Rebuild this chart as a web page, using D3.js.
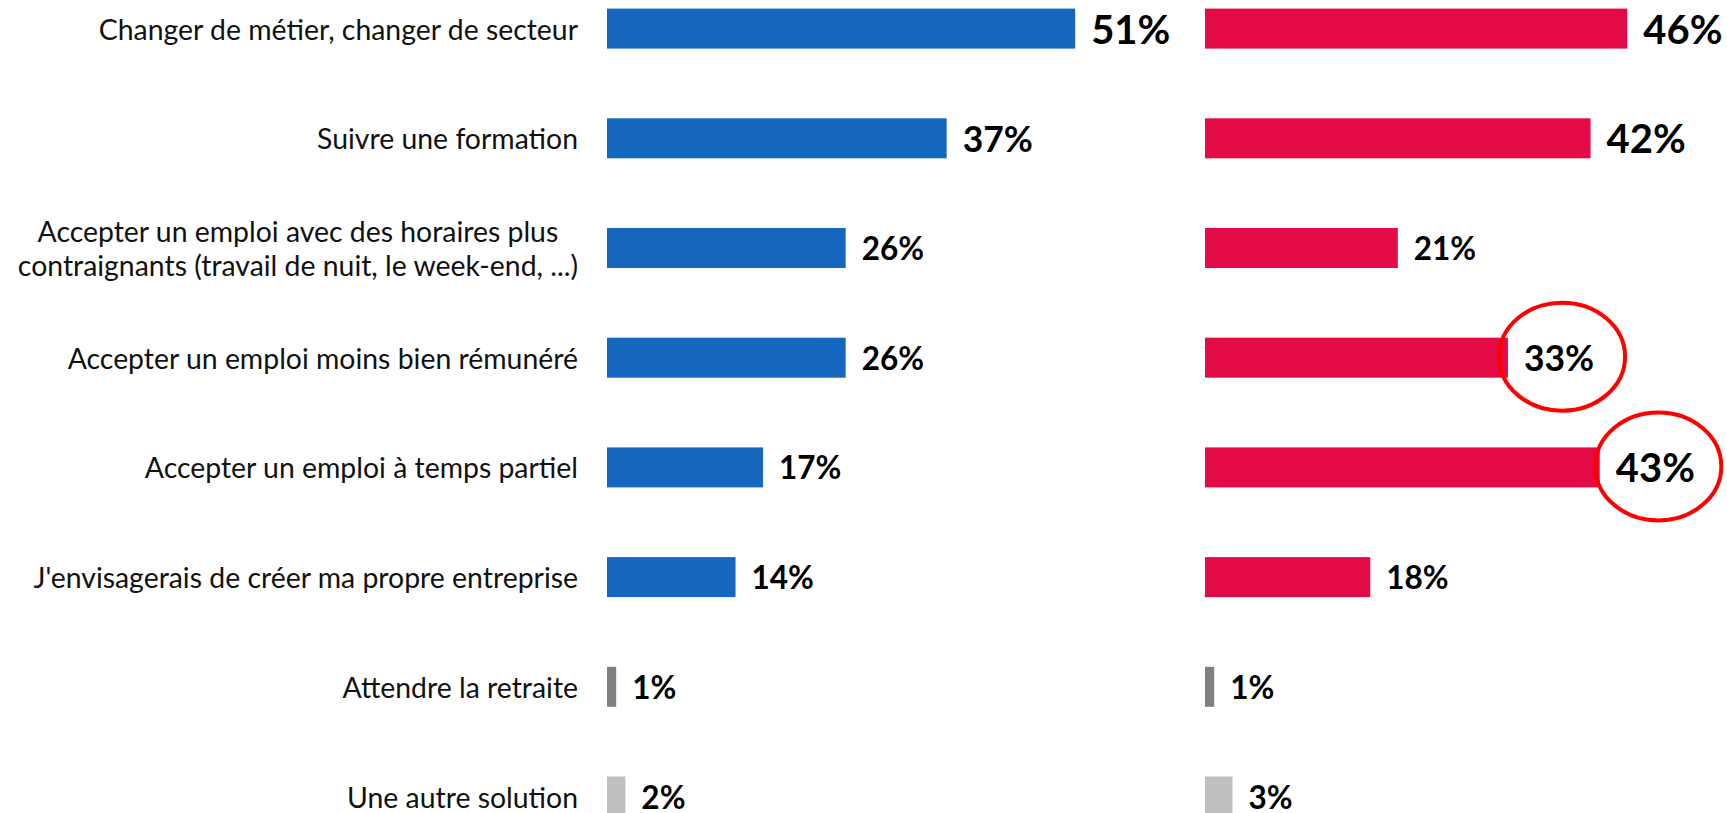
<!DOCTYPE html>
<html><head><meta charset="utf-8">
<script src="https://cdn.jsdelivr.net/npm/d3@7"></script>
<style>html,body{margin:0;padding:0;background:#fff;overflow:hidden}</style>
</head><body>
<svg id="c" width="1727" height="813"></svg>
<script>
// ---- data ----
const categories = [
  "Changer de métier, changer de secteur",
  "Suivre une formation",
  "Accepter un emploi avec des horaires plus\ncontraignants (travail de nuit, le week-end, ...)",
  "Accepter un emploi moins bien rémunéré",
  "Accepter un emploi à temps partiel",
  "J'envisagerais de créer ma propre entreprise",
  "Attendre la retraite",
  "Une autre solution"
];
const seriesLeft  = [51, 37, 26, 26, 17, 14, 1, 2];
const seriesRight = [46, 42, 21, 33, 43, 18, 1, 3];
const otherCategories = ["Attendre la retraite", "Une autre solution"];
const highlightedRight = ["Accepter un emploi moins bien rémunéré", "Accepter un emploi à temps partiel"];

// ---- layout ----
const svg = d3.select("#c");
const barH = 40;
const y = d3.scalePoint().domain(categories).range([28.6, 796.5]);
const x = d3.scaleLinear().domain([0, 100]).range([0, 918]);
const panels = [
  {values: seriesLeft,  x0: 607,  color: "#1466BF", highlights: []},
  {values: seriesRight, x0: 1205, color: "#E30A45", highlights: highlightedRight}
];
const otherColor = d3.scaleOrdinal().domain(otherCategories).range(["#7F7F7F", "#BFBFBF"]);
const labelSize = d3.scaleThreshold().domain([30, 40]).range([31.5, 35.5, 40]);
const FONT = "Lato, 'Open Sans', sans-serif";

// category labels
const labelRight = 578;
const lab = svg.append("g").attr("font-family", FONT).attr("font-size", 28.4).attr("fill", "#111");
categories.forEach(c => {
  const lines = c.split("\n");
  const g = lab.append("g");
  const lh = 34;
  const texts = lines.map((ln, i) => g.append("text")
    .attr("y", y(c) + (i - (lines.length - 1) / 2) * lh)
    .attr("dominant-baseline", "central")
    .text(ln));
  if (lines.length === 1) {
    texts[0].attr("x", labelRight).attr("text-anchor", "end");
  } else {
    const maxW = d3.max(texts, t => t.node().getComputedTextLength());
    texts.forEach(t => t.attr("x", labelRight - maxW / 2).attr("text-anchor", "middle"));
  }
});

// bars & values
panels.forEach(p => {
  const g = svg.append("g");
  categories.forEach((c, i) => {
    const v = p.values[i];
    const col = otherCategories.includes(c) ? otherColor(c) : p.color;
    g.append("rect")
      .attr("x", p.x0).attr("y", y(c) - barH / 2)
      .attr("width", x(v)).attr("height", barH)
      .attr("fill", col);
    const t = g.append("text")
      .attr("x", p.x0 + x(v) + 16).attr("y", y(c))
      .attr("dominant-baseline", "central")
      .attr("font-family", FONT).attr("font-weight", 700)
      .attr("font-size", labelSize(v)).attr("fill", "#000")
      .text(v + "%");
    if (p.highlights.includes(c)) {
      const bb = t.node().getBBox();
      g.append("ellipse")
        .attr("cx", bb.x + bb.width / 2 + 3).attr("cy", y(c) - 1)
        .attr("rx", 63).attr("ry", 54)
        .attr("fill", "none").attr("stroke", "#FF0000").attr("stroke-width", 4);
    }
  });
});
</script>
</body></html>
